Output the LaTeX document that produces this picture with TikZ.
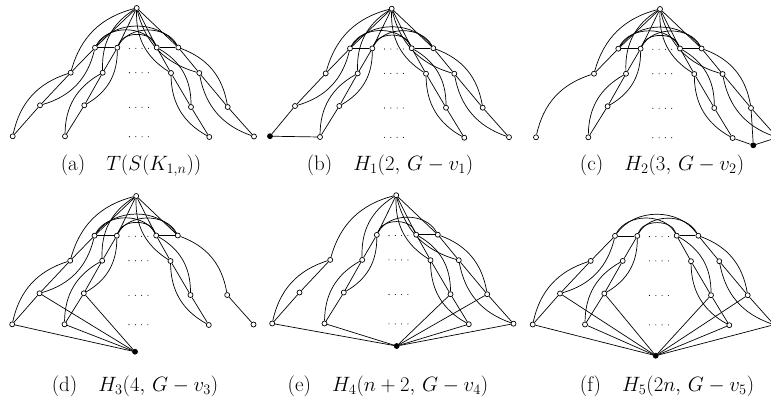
\documentclass[tikz,border=0pt]{standalone}
\pgfdeclarelayer{bg}
\pgfsetlayers{bg,main}
\newcommand\placenodes[2]{\foreach \n/\x/\y in {#2} {\node[vtx] (#1-\n) at (\x,-\y) {};}}
\newcommand\fullbranch[2]{%
  \draw[edge] (#1-T) -- (#1-e#2);
  \draw[edge] (#1-e#2) -- (#1-s#2);
  \draw[edge] (#1-s#2) -- (#1-f#2);
  \draw[edge] (#1-f#2) -- (#1-l#2);
  \draw[edge] (#1-T) to[bend right=30] (#1-s#2);
  \draw[edge] (#1-e#2) to[bend left=30] (#1-f#2);
  \draw[edge] (#1-s#2) to[bend right=30] (#1-l#2);}
\newcommand\lowbranch[2]{%
  \draw[edge] (#1-e#2) -- (#1-s#2);
  \draw[edge] (#1-s#2) -- (#1-f#2);
  \draw[edge] (#1-f#2) -- (#1-l#2);
  \draw[edge] (#1-e#2) to[bend left=30] (#1-f#2);
  \draw[edge] (#1-s#2) to[bend right=30] (#1-l#2);}
\newcommand\clique[1]{%
  \draw[edge] (#1-e1) -- (#1-e2);
  \draw[edge] (#1-e3) -- (#1-e4);
  \draw[edge] (#1-e1) to[out=55,in=125] (#1-e4);
  \draw[edge] (#1-e1) to[out=62,in=118] (#1-e3);
  \draw[edge] (#1-e2) to[out=62,in=118] (#1-e4);
  \draw[edge] (#1-e2) to[out=72,in=108] (#1-e3);}
\newcommand\dotrows{%
  \foreach \yy in {48.3,72.7,107.3,136.7} {\foreach \xx in {129.5,135.8,142.1,148.4} {\fill (\xx,-\yy) circle (0.55);}}}
\begin{document}
\begin{tikzpicture}[x=1pt,y=1pt,
  vtx/.style={circle,draw,fill=white,inner sep=0pt,minimum size=5pt,line width=0.7pt},
  bvtx/.style={circle,draw,fill=black,inner sep=0pt,minimum size=5pt,line width=0.7pt},
  edge/.style={line width=0.7pt},
  captxt/.style={font=\fontsize{21}{24}\selectfont,inner sep=0pt,anchor=base}]
\useasboundingbox (0,-400) rectangle (771,0);

% ---------- (a)
\begin{scope}
\placenodes{a}{T/136.7/8, e1/95/47.7, e2/117.3/47.7, e3/156.7/47.5, e4/178.3/47.5, s1/70.7/72.7, s2/102.7/72.7, s3/171/73, s4/199.3/73, f1/40/105.3, f2/84.3/105.3, f3/191/107, f4/227.7/107, l1/12.7/136.3, l2/65/136.3, l3/209.3/137, l4/254/136.5}
\dotrows
\end{scope}
\begin{pgfonlayer}{bg}
\fullbranch{a}{1}\fullbranch{a}{2}\fullbranch{a}{3}\fullbranch{a}{4}\clique{a}
\end{pgfonlayer}

% ---------- (b)
\begin{scope}[shift={(255,-0.7)}]
\placenodes{b}{T/136.7/8, e1/95/47.7, e2/117.3/47.7, e3/156.7/47.5, e4/178.3/47.5, s1/70.7/72.7, s2/102.7/72.7, s3/171/73, s4/199.3/73, f1/40/105.3, f2/84.3/105.3, f3/191/107, f4/227.7/107, l2/65/136.3, l3/209.3/137, l4/254/136.5}
\dotrows
\end{scope}
\node[bvtx] (b-B) at (270,-136.2) {};
\begin{pgfonlayer}{bg}
\fullbranch{b}{2}\fullbranch{b}{3}\fullbranch{b}{4}\clique{b}
\draw[edge] (b-T) -- (b-e1);
\draw[edge] (b-e1) -- (b-s1);
\draw[edge] (b-s1) -- (b-f1);
\draw[edge] (b-T) to[bend right=30] (b-s1);
\draw[edge] (b-e1) to[bend left=30] (b-f1);
\draw[edge] (b-f1) -- (b-B);
\draw[edge] (b-B) -- (b-l2);
\end{pgfonlayer}

% ---------- (c)
\begin{scope}[shift={(523.3,-1)}]
\placenodes{c}{T/136.7/8, e1/95/47.7, e2/117.3/47.7, e3/156.7/47.5, e4/178.3/47.5, s1/70.7/72.7, s2/102.7/72.7, s3/171/73, s4/199.3/73, f2/84.3/105.3, f3/191/107, f4/227.7/107, l1/12.7/136.3, l2/65/136.3, l3/209.3/137, l4/254/136.5}
\dotrows
\end{scope}
\node[bvtx] (c-B) at (753.3,-145.3) {};
\begin{pgfonlayer}{bg}
\fullbranch{c}{2}\fullbranch{c}{3}\fullbranch{c}{4}\clique{c}
\draw[edge] (c-T) -- (c-e1);
\draw[edge] (c-e1) -- (c-s1);
\draw[edge] (c-T) to[bend right=30] (c-s1);
\draw[edge] (c-s1) to[bend right=30] (c-l1);
\draw[edge] (c-B) -- (c-l3);
\draw[edge] (c-B) -- (c-f4);
\draw[edge] (c-B) -- (c-l4);
\end{pgfonlayer}

% ---------- (d)
\begin{scope}[shift={(-0.5,-188)}]
\placenodes{d}{T/136.7/8, e1/95/47.7, e2/117.3/47.7, e3/156.7/47.5, e4/178.3/47.5, s1/70.7/72.7, s2/102.7/72.7, s3/171/73, f1/40/105.3, f2/84.3/105.3, f3/191/107, f4/227.7/107, l1/12.7/136.3, l2/65/136.3, l3/209.3/137, l4/254/136.5}
\dotrows
\end{scope}
\node[bvtx] (d-B) at (135,-351.7) {};
\begin{pgfonlayer}{bg}
\fullbranch{d}{1}\fullbranch{d}{2}\fullbranch{d}{3}\clique{d}
\draw[edge] (d-T) -- (d-e4);
\draw[edge] (d-e4) to[bend left=30] (d-f4);
\draw[edge] (d-f4) -- (d-l4);
\draw[edge] (d-B) -- (d-l1);
\draw[edge] (d-B) -- (d-f1);
\draw[edge] (d-B) -- (d-l2);
\draw[edge] (d-B) -- (d-f2);
\end{pgfonlayer}

% ---------- (e)
\begin{scope}[shift={(259.5,-187.2)}]
\placenodes{e}{T/136.7/8, e2/117.3/47.7, e3/156.7/47.5, e4/178.3/47.5, s1/70.7/72.7, s2/102.7/72.7, s3/171/73, s4/199.3/73, f1/40/105.3, f2/84.3/105.3, f3/191/107, f4/227.7/107, l1/12.7/136.3, l2/65/136.3, l3/209.3/137, l4/254/136.5}
\dotrows
\end{scope}
\node[bvtx] (e-B) at (396.7,-346) {};
\begin{pgfonlayer}{bg}
\fullbranch{e}{2}\fullbranch{e}{3}\fullbranch{e}{4}
\draw[edge] (e-e3) -- (e-e4);
\draw[edge] (e-e2) to[out=62,in=118] (e-e4);
\draw[edge] (e-e2) to[out=72,in=108] (e-e3);
\draw[edge] (e-T) to[bend right=30] (e-s1);
\draw[edge] (e-s1) -- (e-f1);
\draw[edge] (e-f1) -- (e-l1);
\draw[edge] (e-s1) to[bend right=30] (e-l1);
\draw[edge] (e-B) -- (e-l1);
\draw[edge] (e-B) -- (e-l2);
\draw[edge] (e-B) -- (e-f3);
\draw[edge] (e-B) -- (e-l3);
\draw[edge] (e-B) -- (e-f4);
\draw[edge] (e-B) -- (e-l4);
\end{pgfonlayer}

% ---------- (f)
\begin{scope}[shift={(520,-188.2)}]
\placenodes{f}{e1/95/47.7, e2/117.3/47.7, e3/156.7/47.5, e4/178.3/47.5, s1/70.7/72.7, s2/102.7/72.7, s3/171/73, s4/199.3/73, f1/40/105.3, f2/84.3/105.3, f3/191/107, f4/227.7/107, l1/12.7/136.3, l2/65/136.3, l3/209.3/137, l4/254/136.5}
\dotrows
\end{scope}
\node[bvtx] (f-B) at (655.7,-355.7) {};
\begin{pgfonlayer}{bg}
\lowbranch{f}{1}\lowbranch{f}{2}\lowbranch{f}{3}\lowbranch{f}{4}\clique{f}
\foreach \i in {1,2,3,4} {\draw[edge] (f-B) -- (f-f\i); \draw[edge] (f-B) -- (f-l\i);}
\end{pgfonlayer}

% ---------- captions
\node[captxt] (capa) at (131,-170) {(a)\quad$T(S(K_{1,n}))$};
\node[captxt] (capb) at (390,-170) {(b)\quad$H_1(2,\,G-v_1)$};
\node[captxt] (capc) at (662,-170) {(c)\quad$H_2(3,\,G-v_2)$};
\node[captxt] (capd) at (135,-391) {(d)\quad$H_3(4,\,G-v_3)$};
\node[captxt] (cape) at (388,-391) {(e)\quad$H_4(n+2,\,G-v_4)$};
\node[captxt] (capf) at (667,-391) {(f)\quad$H_5(2n,\,G-v_5)$};
\end{tikzpicture}
\end{document}
